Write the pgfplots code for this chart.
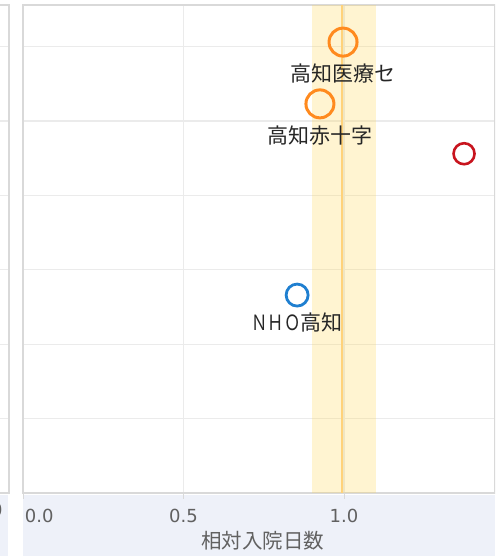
\documentclass[border=0pt]{standalone}
\usepackage{fontspec}
\setmainfont{Noto Sans CJK JP}
\newfontfamily\tickfont{DejaVu Sans}
\usepackage{graphicx}
\usepackage{pgfplots}
\pgfplotsset{compat=1.18}
\definecolor{bandbg}{HTML}{EEF1F9}
\definecolor{gridc}{HTML}{EBEBEB}
\definecolor{framec}{HTML}{D9D9D9}
\definecolor{yband}{HTML}{FFD54F}
\definecolor{oline}{HTML}{FFD27A}
\definecolor{orng}{HTML}{FF8A1E}
\definecolor{blu}{HTML}{1F7FD0}
\definecolor{rd}{HTML}{C8141E}
\definecolor{tickc}{HTML}{616161}
\definecolor{labc}{HTML}{262626}
\begin{document}
\begin{tikzpicture}
\fill[bandbg] (23pt,0) rectangle (495pt,61pt);
\fill[bandbg] (0,0) rectangle (8pt,61pt);
\begin{scope}
\clip (0,0) rectangle (495pt,556pt);
% left (cropped) panel
\begin{axis}[
  scale only axis, width=200pt, height=488pt,
  at={(9pt,63pt)}, anchor=south east,
  xmin=0, xmax=1, ymin=0, ymax=6.559,
  xtick={1}, xticklabels={1.0},
  ytick={1,2,3,4,5,6}, yticklabels={},
  ymajorgrids, major grid style={gridc, line width=1.2pt},
  axis line style={framec, line width=1.5pt},
  major tick length=0pt,
  tick style={draw=none},
  xticklabel style={anchor=north east, xshift=-3pt, yshift=-7pt, font=\tickfont\fontsize{18}{18}\selectfont, text=tickc},
  /pgf/number format/assume math mode=true,
]
\addplot[draw=none, forget plot] coordinates {(0.5,1)};
\end{axis}
% main panel
\begin{axis}[
  scale only axis, width=472pt, height=488pt,
  at={(23pt,63pt)}, anchor=south west,
  xmin=0, xmax=1.4704, ymin=0, ymax=6.559,
  xtick={0,0.5,1}, xticklabels={{\makebox[0pt][l]{\hspace{2pt}0.0}},0.5,1.0},
  ytick={1,2,3,4,5,6}, yticklabels={},
  xmajorgrids, ymajorgrids, major grid style={gridc, line width=1.2pt},
  axis line style={framec, line width=1.5pt},
  xtick style={framec, line width=1pt}, ytick style={draw=none},
  xtick pos=bottom, tick align=outside, major tick length=6pt,
  xticklabel style={anchor=north, yshift=-7pt, font=\tickfont\fontsize{18}{18}\selectfont, text=tickc},
  /pgf/number format/assume math mode=true,
  xlabel={相対入院日数},
  xlabel style={at={(axis description cs:0.508,0)}, anchor=north, yshift=-35pt, font=\fontsize{20.5}{20.5}\selectfont, text=tickc},
]
\addplot[fill=yband, fill opacity=0.26, draw=none, forget plot] coordinates {(0.9,0) (1.1,0) (1.1,6.559) (0.9,6.559)} -- cycle;
\addplot[oline, line width=2pt, forget plot] coordinates {(0.995,0) (0.995,6.559)};
\addplot[only marks, mark=o, mark size=14pt, mark options={orng, line width=3pt},
  nodes near coords={高知医療セ}, nodes near coords style={anchor=north, yshift=-17pt, font=\fontsize{21}{21}\selectfont, text=labc}] coordinates {(0.997,6.06)};
\addplot[only marks, mark=o, mark size=14pt, mark options={orng, line width=3pt},
  nodes near coords={高知赤十字}, nodes near coords style={anchor=north, yshift=-17pt, font=\fontsize{21}{21}\selectfont, text=labc}] coordinates {(0.925,5.23)};
\addplot[only marks, mark=o, mark size=10.5pt, mark options={rd, line width=2.6pt}] coordinates {(1.374,4.56)};
\addplot[only marks, mark=o, mark size=11pt, mark options={blu, line width=2.8pt},
  nodes near coords={\scalebox{0.78}[1]{ＮＨＯ}高知}, nodes near coords style={anchor=north, yshift=-13pt, font=\fontsize{21}{21}\selectfont, text=labc}] coordinates {(0.854,2.66)};
\end{axis}
\end{scope}
\pgfresetboundingbox
\useasboundingbox (0,0) rectangle (495pt,556pt);
\end{tikzpicture}
\end{document}
